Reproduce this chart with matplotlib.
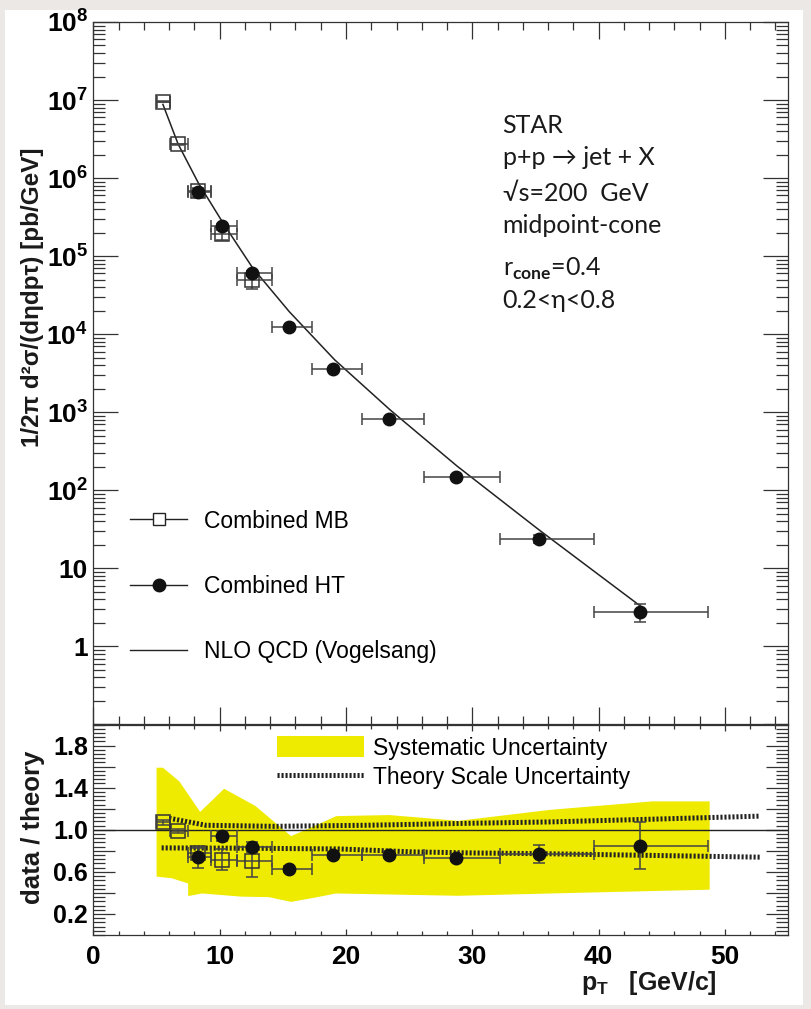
import numpy as np
import matplotlib.pyplot as plt
from matplotlib.patches import Rectangle, Patch
from matplotlib.lines import Line2D
from matplotlib.ticker import FixedLocator, MultipleLocator, LogLocator, NullFormatter, FuncFormatter

plt.rcParams['font.family'] = ['Liberation Sans', 'DejaVu Sans']
plt.rcParams['font.weight'] = 'bold'
plt.rcParams['mathtext.fontset'] = 'custom'
plt.rcParams['mathtext.rm'] = 'Lato'
plt.rcParams['mathtext.bf'] = 'Liberation Sans:bold'
plt.rcParams['mathtext.it'] = 'Liberation Sans:italic'

### jet cross section, minimum bias sample
mb_pt = [5.47, 6.69, 8.28, 10.2, 12.54]
mb_lo = [5.0, 6.1, 7.5, 9.3, 11.4]
mb_hi = [6.1, 7.5, 9.3, 11.4, 14.1]
mb_xsec = [9.5e6, 2.7e6, 6.8e5, 1.9e5, 4.9e4]
mb_ratio = [1.07, 0.985, 0.78, 0.715, 0.70]
mb_rerr = [0.02, 0.02, 0.05, 0.10, 0.15]

### high tower sample
ht_pt = [8.27, 10.2, 12.54, 15.45, 19.0, 23.4, 28.7, 35.26, 43.26]
ht_lo = [7.5, 9.3, 11.4, 14.1, 17.3, 21.3, 26.2, 32.2, 39.6]
ht_hi = [9.3, 11.4, 14.1, 17.3, 21.3, 26.2, 32.2, 39.6, 48.7]
ht_xsec = [6.6e5, 2.43e5, 6.0e4, 1.22e4, 3.6e3, 818, 150, 23.8, 2.8]
ht_ratio = [0.74, 0.94, 0.835, 0.63, 0.76, 0.765, 0.735, 0.77, 0.85]
ht_rerr = [0.10, 0.05, 0.05, 0.03, 0.03, 0.03, 0.03, 0.09, 0.22]

### NLO pQCD
nlo_pt = [5.5, 6.7, 8.3, 10.3, 12.6, 15.5, 19.1, 23.5, 28.8, 35.3, 43.3]
nlo_xsec = [8.8e6, 2.74e6, 8.7e5, 2.6e5, 7.1e4, 1.95e4, 4.7e3, 1070, 204, 31, 3.3]

### theory scale uncertainty (ratio)
scale_up_pt = [6.0, 8.9, 14.3, 21.6, 28.9, 36.2, 44.0, 52.8]
scale_up = [1.11, 1.043, 1.033, 1.043, 1.06, 1.075, 1.10, 1.13]
scale_lo_pt = [5.4, 12.0, 19.5, 25.3, 30.0, 36.2, 44.0, 52.8]
scale_lo = [0.828, 0.825, 0.818, 0.79, 0.78, 0.772, 0.757, 0.74]

### systematic uncertainty band
sys_up_x = [5.0, 5.5, 6.8, 8.45, 10.35, 12.84, 15.65, 17.58, 19.23, 23.43, 28.9, 36.2, 44.26, 48.8]
sys_up = [1.59, 1.59, 1.46, 1.17, 1.39, 1.225, 0.94, 1.04, 1.13, 1.14, 1.085, 1.19, 1.27, 1.27]
sys_lo_x = [5.0, 6.2, 7.5, 7.5, 8.6, 11.7, 13.9, 15.65, 17.6, 19.2, 28.9, 36.2, 48.8]
sys_lo = [0.555, 0.54, 0.49, 0.37, 0.395, 0.365, 0.36, 0.315, 0.357, 0.395, 0.373, 0.395, 0.431]

text_lines = ['STAR', 'p+p \u2192 jet + X', '\u221as=200  GeV', 'midpoint-cone',
              r'r$_{\mathrm{cone}}$=0.4', '0.2<\u03b7<0.8']
text_y = [0.842, 0.7964, 0.7452, 0.6996, 0.6384, 0.5929]

mb_pt = np.array(mb_pt); ht_pt = np.array(ht_pt)
mb_xerr = [mb_pt - np.array(mb_lo), np.array(mb_hi) - mb_pt]
ht_xerr = [ht_pt - np.array(ht_lo), np.array(ht_hi) - ht_pt]
mb_yerr = np.array(mb_xsec) * np.array(mb_rerr) / np.array(mb_ratio)
ht_yerr = np.array(ht_xsec) * np.array(ht_rerr) / np.array(ht_ratio)

fig = plt.figure(figsize=(8.12, 10.09), dpi=100, facecolor='#ebe8e5')
fig.patches.append(Rectangle((5/812, 4/1009), 798/812, 995/1009, transform=fig.transFigure,
                             facecolor='white', edgecolor='none', zorder=-10))

ax1 = fig.add_axes([0.1151, 0.2820, 0.8553, 0.6962])
ax2 = fig.add_axes([0.1151, 0.0733, 0.8553, 0.2086])

sq = dict(fmt='s', ms=9.5, mfc='none', mec='#333333', mew=1.1, ecolor='#444444',
          elinewidth=1.1, capsize=4, capthick=1.1)
dot = dict(fmt='o', ms=9, mfc='#111111', mec='#111111', ecolor='#444444',
           elinewidth=1.1, capsize=4, capthick=1.1)

# upper pad: cross section
ax1.plot(nlo_pt, nlo_xsec, color='#222222', lw=1.1, zorder=2)
ax1.errorbar(mb_pt, mb_xsec, xerr=mb_xerr, yerr=mb_yerr, zorder=3, **sq)
ax1.errorbar(ht_pt, ht_xsec, xerr=ht_xerr, yerr=ht_yerr, zorder=4, **dot)
ax1.set_yscale('log')
ax1.set_xlim(0, 55)
ax1.set_ylim(0.1, 1e8)

def logfmt(v, pos):
    e = int(round(np.log10(v)))
    if e < 0:
        return ''
    if e == 0:
        return '1'
    if e == 1:
        return '10'
    return r'$\mathbf{10^{%d}}$' % e

ax1.yaxis.set_major_locator(LogLocator(base=10, numticks=20))
ax1.yaxis.set_minor_locator(LogLocator(base=10, subs=np.arange(2, 10), numticks=20))
ax1.yaxis.set_major_formatter(FuncFormatter(logfmt))
ax1.yaxis.set_minor_formatter(NullFormatter())
ax1.xaxis.set_major_locator(MultipleLocator(10))
ax1.xaxis.set_minor_locator(MultipleLocator(2))
ax1.tick_params(axis='y', which='major', direction='in', length=18, width=0.9,
                left=True, right=True, labelsize=19, pad=4, color='#333333')
ax1.tick_params(axis='y', which='minor', direction='in', length=8.5, width=0.9,
                left=True, right=True, color='#333333')
ax1.tick_params(axis='x', which='major', direction='in', length=12, width=0.9,
                top=True, bottom=True, labelbottom=False, color='#333333')
ax1.tick_params(axis='x', which='minor', direction='in', length=6, width=0.9,
                top=True, bottom=True, color='#333333')

for t, yy in zip(text_lines, text_y):
    ax1.text(0.589, yy, t, transform=ax1.transAxes,
             fontsize=18, fontweight='normal', family=['Lato', 'DejaVu Sans'],
             va='baseline', ha='left', color='#1a1a1a')

h1 = [Line2D([], [], color='#222222', lw=1, marker='s', ms=8.5, mfc='white', mec='#222222', mew=1),
      Line2D([], [], color='#222222', lw=1, marker='o', ms=9, mfc='#111111', mec='#111111'),
      Line2D([], [], color='#222222', lw=1)]
ax1.legend(h1, ['Combined MB', 'Combined HT', 'NLO QCD (Vogelsang)'], loc='upper left',
           bbox_to_anchor=(0.0526, 0.306), frameon=False, borderpad=0, borderaxespad=0,
           handlelength=2.5, handletextpad=0.75, labelspacing=1.85,
           prop={'size': 16.5, 'weight': 'normal'})

# lower pad: data / theory
ax2.fill(list(sys_up_x) + sys_lo_x[::-1], list(sys_up) + sys_lo[::-1], color='#eeea00', lw=0, zorder=1)
ax2.axhline(1.0, color='#222222', lw=1.0, zorder=2)
ax2.plot(scale_up_pt, scale_up, color='#222222', lw=3.6, ls=(0, (0.42, 0.38)), zorder=3)
ax2.plot(scale_lo_pt, scale_lo, color='#222222', lw=3.6, ls=(0, (0.42, 0.38)), zorder=3)
ax2.errorbar(mb_pt, mb_ratio, xerr=mb_xerr, yerr=mb_rerr, zorder=4, **sq)
ax2.errorbar(ht_pt, ht_ratio, xerr=ht_xerr, yerr=ht_rerr, zorder=5, **dot)
ax2.set_xlim(0, 55)
ax2.set_ylim(0.0, 2.0)

ratio_ticks = [0.2, 0.4, 0.6, 0.8, 1.0, 1.2, 1.4, 1.6, 1.8]
ax2.yaxis.set_major_locator(FixedLocator(ratio_ticks))
ax2.yaxis.set_major_formatter(FuncFormatter(lambda v, p: '%.1f' % v if p % 2 == 0 else ''))
ax2.yaxis.set_minor_locator(MultipleLocator(0.04))
ax2.xaxis.set_major_locator(MultipleLocator(10))
ax2.xaxis.set_minor_locator(MultipleLocator(2))
ax2.tick_params(axis='y', which='major', direction='in', length=16, width=0.9,
                left=True, right=True, labelsize=18, pad=4, color='#333333')
ax2.tick_params(axis='y', which='minor', direction='in', length=8.5, width=0.9,
                left=True, right=True, color='#333333')
ax2.tick_params(axis='x', which='major', direction='in', length=4.5, width=0.9,
                top=True, bottom=True, labelsize=19, pad=7, color='#333333')
ax2.tick_params(axis='x', which='minor', direction='in', length=3, width=0.9,
                top=True, bottom=True, color='#333333')

h2 = [Patch(facecolor='#eeea00', edgecolor='none'),
      Line2D([], [], color='#222222', lw=3.6, ls=(0, (0.42, 0.38)))]
ax2.legend(h2, ['Systematic Uncertainty', 'Theory Scale Uncertainty'], loc='upper left',
           bbox_to_anchor=(0.264, 0.945), frameon=False, borderpad=0, borderaxespad=0,
           handlelength=3.8, handleheight=1.05, handletextpad=0.4, labelspacing=0.25,
           prop={'size': 16.5, 'weight': 'normal'})

for ax in (ax1, ax2):
    for s in ax.spines.values():
        s.set_color('#333333')
        s.set_linewidth(0.9)

fig.text(33/812, 1 - 297/1009, '1/2\u03c0 d\u00b2\u03c3/(d\u03b7dp\u03c4) [pb/GeV]', rotation=90,
         ha='center', va='center', fontsize=17.5, color='#1a1a1a')
fig.text(33/812, 1 - 827/1009, 'data / theory', rotation=90,
         ha='center', va='center', fontsize=18.5, color='#1a1a1a')
fig.text(717/812, 1 - 990/1009, r'$\mathbf{p}_{\mathbf{T}}$   [GeV/c]', ha='right', va='baseline',
         fontsize=18, color='#1a1a1a')

fig.savefig('out.png', dpi=100, facecolor=fig.get_facecolor())
